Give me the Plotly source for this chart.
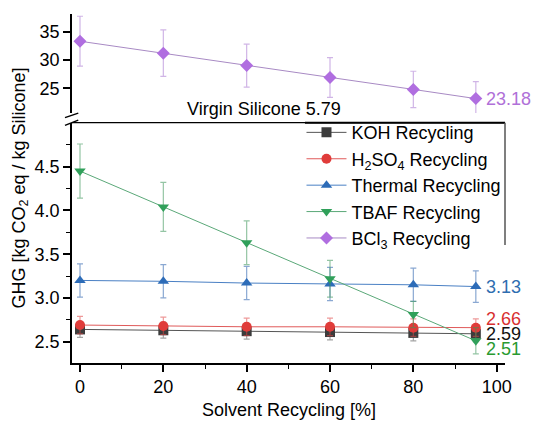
import plotly.graph_objects as go

x = [0, 20, 40, 60, 80, 95]
koh = [2.64, 2.63, 2.62, 2.61, 2.60, 2.59]
koh_err = [0.09, 0.09, 0.09, 0.09, 0.09, 0.09]
h2so4 = [2.69, 2.68, 2.67, 2.67, 2.66, 2.66]
h2so4_err = [0.10, 0.10, 0.10, 0.10, 0.10, 0.10]
thermal = [3.20, 3.19, 3.17, 3.16, 3.15, 3.13]
thermal_err = [0.19, 0.19, 0.19, 0.19, 0.19, 0.18]
tbaf = [4.45, 4.04, 3.63, 3.22, 2.81, 2.51]
tbaf_err = [0.31, 0.28, 0.25, 0.21, 0.15, 0.15]
bcl3 = [33.3, 31.2, 29.0, 26.9, 24.8, 23.18]
bcl3_err = [4.4, 4.1, 3.8, 3.5, 3.2, 3.0]

virgin_label = "Virgin Silicone 5.79"

FONT = "Arial, Liberation Sans, sans-serif"

series = [
    ("KOH Recycling", koh, koh_err, "square", "#3c3c3c", "#555555", "rgba(90,90,90,0.55)", "x", "y", "2.59", "#111111", 0),
    ("H<sub>2</sub>SO<sub>4</sub> Recycling", h2so4, h2so4_err, "circle", "#e03c3a", "#e05a5a", "rgba(224,70,70,0.55)", "x", "y", "2.66", "#d83030", 9),
    ("Thermal Recycling", thermal, thermal_err, "triangle-up", "#2d6cb8", "#4a80c4", "rgba(60,110,180,0.6)", "x", "y", "3.13", "#2f6db0", 0),
    ("TBAF Recycling", tbaf, tbaf_err, "triangle-down", "#30a05a", "#5aa878", "rgba(60,150,90,0.55)", "x", "y", "2.51", "#2a9a30", -8),
    ("BCl<sub>3</sub> Recycling", bcl3, bcl3_err, "diamond", "#b06ee0", "#a88ac4", "rgba(170,120,210,0.55)", "x2", "y2", "23.18", "#b070d8", 0),
]

fig = go.Figure()
annotations = []
for name, ys, err, sym, mcol, lcol, ecol, xa, ya, lab, labcol, yshift in series:
    fig.add_trace(go.Scatter(
        x=x, y=ys, name=name, mode="lines+markers", xaxis=xa, yaxis=ya,
        line=dict(color=lcol, width=1),
        marker=dict(symbol=sym, size=10, color=mcol),
        error_y=dict(type="data", array=err, visible=True, color=ecol, thickness=1.2, width=3),
    ))
    annotations.append(dict(x=x[-1], y=ys[-1], xref=xa, yref=ya, text=lab, showarrow=False,
                            xanchor="left", yanchor="middle", xshift=8, yshift=yshift,
                            font=dict(size=18, color=labcol, family=FONT)))

# reference label and axis titles
annotations.append(dict(x=0.443, y=0.692, xref="paper", yref="paper", text=virgin_label, showarrow=False,
                        xanchor="center", yanchor="bottom", font=dict(size=18, color="black", family=FONT)))
annotations.append(dict(x=0.5, y=-0.135, xref="paper", yref="paper", text="Solvent Recycling [%]", showarrow=False,
                        xanchor="center", yanchor="middle", font=dict(size=18, color="black", family=FONT)))
annotations.append(dict(x=-0.12, y=0.50, xref="paper", yref="paper", text="GHG [kg CO<sub>2</sub> eq / kg Silicone]",
                        showarrow=False, textangle=-90, xanchor="center", yanchor="middle",
                        font=dict(size=18, color="black", family=FONT)))

shapes = [
    dict(type="line", xref="paper", yref="paper", x0=0, x1=1, y0=0.6885, y1=0.6885, line=dict(color="black", width=1.2)),
    dict(type="line", xref="paper", yref="paper", x0=0.538, x1=1, y0=0.6885, y1=0.6885, line=dict(color="black", width=2)),
    dict(type="line", xref="paper", yref="paper", x0=1, x1=1, y0=0.6885, y1=0.338, line=dict(color="#555555", width=1.5)),
    dict(type="rect", xref="paper", yref="paper", x0=-0.006, x1=0.006, y0=0.6925, y1=0.712, line=dict(width=0), fillcolor="white"),
    dict(type="line", xref="paper", yref="paper", x0=-0.0162, x1=0.0145, y0=0.703, y1=0.716, line=dict(color="black", width=1.5)),
    dict(type="line", xref="paper", yref="paper", x0=-0.0162, x1=0.0145, y0=0.681, y1=0.696, line=dict(color="black", width=1.5)),
]

axis_common = dict(showline=True, linecolor="black", linewidth=1.5, ticks="outside", ticklen=7, tickwidth=1.5,
                   tickcolor="black", showgrid=False, zeroline=False,
                   tickfont=dict(size=18, color="black", family=FONT))

fig.update_layout(
    width=533, height=421,
    margin=dict(l=72, r=28, t=14, b=58),
    paper_bgcolor="white", plot_bgcolor="white",
    font=dict(family=FONT, size=18, color="black"),
    xaxis=dict(range=[-1.92, 102], domain=[0, 1], anchor="y", tickvals=[0, 20, 40, 60, 80, 100],
               minor=dict(tickvals=[10, 30, 50, 70, 90], ticks="outside", ticklen=4, tickwidth=1.2, tickcolor="black"),
               **axis_common),
    yaxis=dict(range=[2.256, 5.0], domain=[0, 0.6877], anchor="x", tickvals=[2.5, 3.0, 3.5, 4.0, 4.5],
               ticktext=["2.5", "3.0", "3.5", "4.0", "4.5"],
               minor=dict(tickvals=[2.75, 3.25, 3.75, 4.25, 4.75], ticks="outside", ticklen=4, tickwidth=1.2, tickcolor="black"),
               **axis_common),
    xaxis2=dict(range=[-1.92, 102], domain=[0, 1], anchor="y2", matches="x", visible=False),
    yaxis2=dict(range=[20.64, 38.1], domain=[0.7163, 1], anchor="x2", tickvals=[25, 30, 35], **axis_common),
    legend=dict(x=0.53, y=0.713, xanchor="left", yanchor="top", bgcolor="rgba(255,255,255,0)",
                borderwidth=0, font=dict(size=18, color="black", family=FONT), tracegroupgap=0,
                itemwidth=40),
    showlegend=True,
    annotations=annotations,
    shapes=shapes,
)

fig.write_html("out.html")
